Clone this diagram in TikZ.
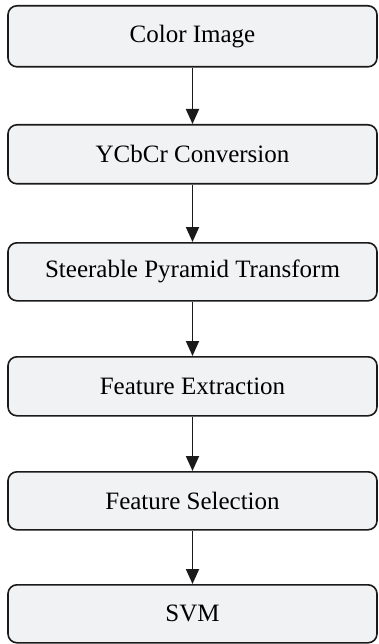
\documentclass[tikz,border=0pt]{standalone}
\usepackage{fontspec}
\setmainfont{Liberation Serif}
\usetikzlibrary{arrows.meta}
\definecolor{boxfill}{HTML}{F1F2F4}
\definecolor{edge}{HTML}{1A1A1A}
\begin{document}
\begin{tikzpicture}[x=1pt,y=-1pt,
  stepbox/.style={draw=edge, fill=boxfill, line width=1.6pt, rounded corners=9pt,
    minimum width=369pt, inner sep=0pt, anchor=north, font=\fontsize{25}{28}\selectfont},
  flow/.style={draw=edge, line width=1.8pt, -{Triangle[width=13pt,length=15pt]}}]
\useasboundingbox (0,0) rectangle (378,644);
\node[stepbox, minimum height=61pt] (a) at (192.5,5) {Color Image};
\node[stepbox, minimum height=59pt] (b) at (192.5,124) {YCbCr Conversion};
\node[stepbox, minimum height=58pt] (c) at (192.5,242) {Steerable Pyramid Transform};
\node[stepbox, minimum height=59pt] (d) at (192.5,356) {Feature Extraction};
\node[stepbox, minimum height=58pt] (e) at (192.5,471) {Feature Selection};
\node[stepbox, minimum height=58pt] (f) at (192.5,584) {SVM};
\draw[flow] (a.south) -- (b.north);
\draw[flow] (b.south) -- (c.north);
\draw[flow] (c.south) -- (d.north);
\draw[flow] (d.south) -- (e.north);
\draw[flow] (e.south) -- (f.north);
\end{tikzpicture}
\end{document}
